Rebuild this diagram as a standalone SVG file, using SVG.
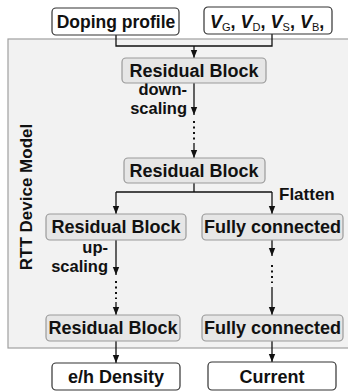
<svg xmlns="http://www.w3.org/2000/svg" width="348" height="392" viewBox="0 0 348 392">
  <defs>
    <marker id="arrow" viewBox="0 0 8 8" refX="8" refY="4" markerWidth="8" markerHeight="8" markerUnits="userSpaceOnUse" orient="auto">
      <path d="M0,0.8 L8,4 L0,7.2 z" fill="#111"/>
    </marker>
    <style>
      text { font-family: "Liberation Sans", Arial, sans-serif; font-weight: bold; fill: #111; }
      .lbl { font-size: 18px; text-anchor: middle; }
      .note { font-size: 17px; }
      .side { font-size: 16.5px; }
      .io { fill: #ffffff; stroke: #333333; stroke-width: 1.2; }
      .blk { fill: #e6e6e6; stroke: #9a9a9a; stroke-width: 1.2; }
      .wire { fill: none; stroke: #111; stroke-width: 1.3; }
      .dots { fill: none; stroke: #111; stroke-width: 2; stroke-dasharray: 2 3.5; }
    </style>
  </defs>

  <!-- model container -->
  <g id="rtt-model">
    <rect x="8" y="39" width="345" height="309" fill="#f2f2f2" stroke="#a0a0a0" stroke-width="1.2"/>
    <text class="note" transform="translate(32,197) rotate(-90)" text-anchor="middle">RTT Device Model</text>
  </g>

  <!-- connectors -->
  <g id="connectors">
    <path class="wire" d="M116,35 V46 H272 V34"/>
    <path class="wire" d="M194,46 V58" marker-end="url(#arrow)"/>
    <path class="wire" d="M194,83 V115" marker-end="url(#arrow)"/>
    <path class="dots" d="M194,121 V140"/>
    <path class="wire" d="M194,143 V158" marker-end="url(#arrow)"/>
    <path class="wire" d="M194,183 V192"/>
    <path class="wire" d="M116,192 H272"/>
    <path class="wire" d="M116,192 V214" marker-end="url(#arrow)"/>
    <path class="wire" d="M272,192 V214" marker-end="url(#arrow)"/>
    <path class="wire" d="M116,240 V275" marker-end="url(#arrow)"/>
    <path class="dots" d="M116,281 V299"/>
    <path class="wire" d="M116,302 V315" marker-end="url(#arrow)"/>
    <path class="wire" d="M272,240 V256" marker-end="url(#arrow)"/>
    <path class="dots" d="M272,265 V283"/>
    <path class="wire" d="M272,287 V315" marker-end="url(#arrow)"/>
    <path class="wire" d="M116,341 V363" marker-end="url(#arrow)"/>
    <path class="wire" d="M272,341 V362" marker-end="url(#arrow)"/>
    <text class="side" x="187" y="95" text-anchor="end">down-</text>
    <text class="side" x="187" y="114" text-anchor="end">scaling</text>
    <text class="note" x="279" y="200">Flatten</text>
    <text class="side" x="108" y="253" text-anchor="end">up-</text>
    <text class="side" x="108" y="272" text-anchor="end">scaling</text>
  </g>

  <!-- inputs -->
  <g id="doping-profile">
    <rect class="io" x="52" y="8" width="127" height="27" rx="4"/>
    <text class="lbl" x="116" y="28" style="font-size:17.5px">Doping profile</text>
  </g>
  <g id="bias-voltages">
    <rect class="io" x="204" y="7" width="128" height="27" rx="4"/>
    <text x="210" y="28" style="font-size:18px"><tspan font-style="italic">V</tspan><tspan font-size="11" font-weight="normal" dy="3">G</tspan><tspan dy="-3">, </tspan><tspan font-style="italic">V</tspan><tspan font-size="11" font-weight="normal" dy="3">D</tspan><tspan dy="-3">, </tspan><tspan font-style="italic">V</tspan><tspan font-size="11" font-weight="normal" dy="3">S</tspan><tspan dy="-3">, </tspan><tspan font-style="italic">V</tspan><tspan font-size="11" font-weight="normal" dy="3">B</tspan><tspan dy="-3">,</tspan></text>
  </g>

  <!-- shared encoder -->
  <g id="res-block-1">
    <rect class="blk" x="122" y="58" width="144" height="25" rx="4"/>
    <text class="lbl" x="194" y="77">Residual Block</text>
  </g>
  <g id="res-block-2">
    <rect class="blk" x="124" y="158" width="141" height="25" rx="4"/>
    <text class="lbl" x="194" y="177">Residual Block</text>
  </g>

  <!-- density branch -->
  <g id="res-block-3">
    <rect class="blk" x="46" y="214" width="140" height="26" rx="4"/>
    <text class="lbl" x="116" y="233">Residual Block</text>
  </g>
  <g id="res-block-4">
    <rect class="blk" x="46" y="315" width="134" height="26" rx="4"/>
    <text class="lbl" x="113" y="334">Residual Block</text>
  </g>

  <!-- current branch -->
  <g id="fc-1">
    <rect class="blk" x="202" y="214" width="141" height="26" rx="4"/>
    <text class="lbl" x="272.5" y="233">Fully connected</text>
  </g>
  <g id="fc-2">
    <rect class="blk" x="202" y="315" width="141" height="26" rx="4"/>
    <text class="lbl" x="272.5" y="334">Fully connected</text>
  </g>

  <!-- outputs -->
  <g id="eh-density">
    <rect class="io" x="52" y="363" width="128" height="27" rx="4"/>
    <text class="lbl" x="116" y="383">e/h Density</text>
  </g>
  <g id="current">
    <rect class="io" x="208" y="362" width="128" height="28" rx="4"/>
    <text class="lbl" x="272" y="383">Current</text>
  </g>
</svg>
